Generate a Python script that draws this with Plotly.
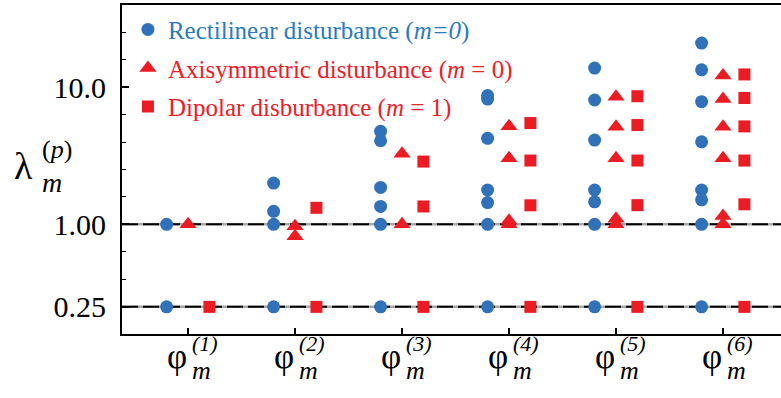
import plotly.graph_objects as go

# ---------------- data ----------------
categories = [1, 2, 3, 4, 5, 6]
cat_sup = ["(1)", "(2)", "(3)", "(4)", "(5)", "(6)"]

# Rectilinear disturbance (m=0), per category
rect_vals = [
    [1.0, 0.25],
    [2.0, 1.245, 1.0, 0.25],
    [4.77, 4.07, 1.86, 1.35, 1.0, 0.25],
    [8.7, 8.2, 4.24, 1.78, 1.44, 1.0, 0.25],
    [13.8, 8.07, 4.12, 1.78, 1.46, 1.0, 0.25],
    [21.0, 13.4, 7.85, 4.0, 1.78, 1.51, 1.0, 0.25],
]
# Axisymmetric disturbance (m = 0)
axi_vals = [
    [1.0],
    [0.97, 0.82],
    [3.27, 1.0],
    [5.19, 3.04, 1.06, 1.0],
    [8.54, 5.15, 3.04, 1.1, 1.0],
    [12.2, 8.2, 5.15, 3.04, 1.15, 1.0],
]
# Dipolar disburbance (m = 1)
dip_vals = [
    [0.25],
    [1.32, 0.25],
    [2.87, 1.35, 0.25],
    [5.48, 2.92, 1.377, 0.25],
    [8.6, 5.3, 2.92, 1.38, 0.25],
    [12.4, 8.35, 5.18, 2.92, 1.40, 0.25],
]
ref_levels = [1.0, 0.25]
y_major = [0.25, 1.0, 10.0]
y_major_text = ["0.25", "1.00", "10.0"]
y_minor_exp = [-0.8, -0.6, -0.4, -0.2, 0.0, 0.2, 0.4, 0.6, 0.8, 1.0, 1.2, 1.4, 1.6]

series_names = [
    '<span style="color:#2a7bbf">Rectilinear disturbance (<i>m=0</i>)</span>',
    '<span style="color:#ec2027">Axisymmetric disturbance (<i>m</i> = 0)</span>',
    '<span style="color:#ec2027">Dipolar disburbance (<i>m</i> = 1)</span>',
]

# ---------------- style ----------------
BLUE = "#3171b9"
RED = "#ec1c24"
FONT = "Liberation Serif, Times New Roman, Times, serif"
X_RANGE = [0.383, 6.542]
OFFSETS = [-0.2, 0.0, 0.2]
SYMBOLS = ["circle", "triangle-up", "square"]
SIZES = [13, 15, 12]
COLORS = [BLUE, RED, RED]

fig = go.Figure()

# reference lines (grey base + black dashes)
for lv in ref_levels:
    fig.add_trace(go.Scatter(x=X_RANGE, y=[lv, lv], mode="lines",
                             line=dict(color="#a8a8a8", width=2.5),
                             showlegend=False, hoverinfo="skip"))
    fig.add_trace(go.Scatter(x=X_RANGE, y=[lv, lv], mode="lines",
                             line=dict(color="black", width=2, dash="16px,5px"),
                             showlegend=False, hoverinfo="skip"))

for si, vals in enumerate([rect_vals, axi_vals, dip_vals]):
    xs, ys = [], []
    for c, col in zip(categories, vals):
        for v in col:
            xs.append(c + OFFSETS[si])
            ys.append(v)
    fig.add_trace(go.Scatter(
        x=xs, y=ys, mode="markers", name=series_names[si],
        legendgroup=f"g{si}",
        marker=dict(symbol=SYMBOLS[si], size=SIZES[si], color=COLORS[si],
                    line=dict(width=0)),
    ))

annotations = []
# y-axis title  λ_m^(p)
annotations.append(dict(xref="paper", yref="paper", x=-0.167, y=0.51, xanchor="left",
                        yanchor="middle", text="λ", showarrow=False,
                        font=dict(family=FONT, size=38, color="black")))
annotations.append(dict(xref="paper", yref="paper", x=-0.124, y=0.46, xanchor="left",
                        yanchor="middle", text="<i>m</i>", showarrow=False,
                        font=dict(family=FONT, size=28, color="black")))
annotations.append(dict(xref="paper", yref="paper", x=-0.124, y=0.56, xanchor="left",
                        yanchor="middle", text="(<i>p</i>)", showarrow=False,
                        font=dict(family=FONT, size=26, color="black")))
# x tick labels  φ_m^(k)
for c, s in zip(categories, cat_sup):
    annotations.append(dict(xref="x", yref="paper", x=c, y=-0.068, xanchor="right",
                            xshift=1, yanchor="middle", text="φ", showarrow=False,
                            font=dict(family=FONT, size=35, color="black")))
    annotations.append(dict(xref="x", yref="paper", x=c, y=-0.112, xanchor="left",
                            xshift=2, yanchor="middle", text="<i>m</i>", showarrow=False,
                            font=dict(family=FONT, size=26, color="black")))
    annotations.append(dict(xref="x", yref="paper", x=c, y=-0.03, xanchor="left",
                            xshift=2, yanchor="middle", text=f"<i>{s}</i>", showarrow=False,
                            font=dict(family=FONT, size=22, color="black")))

fig.update_layout(
    width=781, height=398,
    margin=dict(l=122, r=0, t=5, b=64),
    paper_bgcolor="white", plot_bgcolor="white",
    font=dict(family=FONT, color="black"),
    showlegend=True,
    legend=dict(x=0.009, y=0.995, xanchor="left", yanchor="top",
                bgcolor="rgba(0,0,0,0)", font=dict(family=FONT, size=25),
                tracegroupgap=3, itemclick=False),
    xaxis=dict(range=X_RANGE, tickmode="array", tickvals=categories,
               showticklabels=False, ticks="inside", ticklen=6, tickwidth=1.5,
               tickcolor="black", showline=True, linecolor="black", linewidth=2,
               mirror=True, showgrid=False, zeroline=False),
    yaxis=dict(type="log", range=[-0.8, 1.6], tickmode="array", tickvals=y_major,
               ticktext=y_major_text, ticks="inside", ticklen=7, tickwidth=1.5,
               tickcolor="black", showline=True, linecolor="black", linewidth=2,
               showgrid=False, zeroline=False, ticklabelstandoff=8,
               tickfont=dict(family=FONT, size=30, color="black"),
               minor=dict(tickmode="array",
                          tickvals=[10 ** e for e in y_minor_exp],
                          ticks="inside", ticklen=3.5, tickwidth=1.2,
                          tickcolor="black", showgrid=False)),
    annotations=annotations,
)

fig.write_html("out.html")
